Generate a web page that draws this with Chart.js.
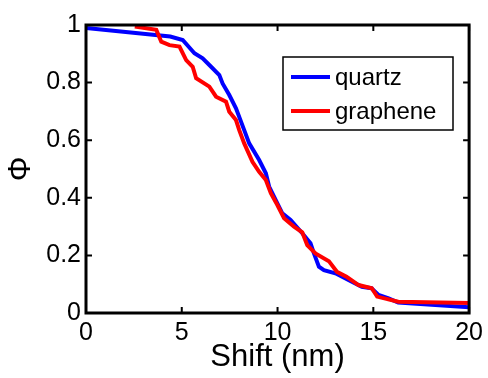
<!DOCTYPE html>
<html>
<head>
<meta charset="utf-8">
<script src="https://cdn.jsdelivr.net/npm/chart.js@4"></script>
<style>
  html, body { margin: 0; padding: 0; background: #fff; }
  #wrap { width: 488px; height: 378px; }
</style>
</head>
<body>
<div id="wrap"><canvas id="chart"></canvas></div>
<script>
// values
var quartzX = [0, 4.4, 5.05, 5.66, 6.09, 6.53, 6.96, 7.13, 7.48, 7.83, 8.26, 8.52, 9.04, 9.39, 9.56, 9.99, 10.25, 10.68, 11.29, 11.72, 11.9, 12.16, 12.42, 13.02, 13.7, 14.4, 14.9, 15.27, 15.8, 16.3, 20];
var quartzY = [0.99, 0.96, 0.948, 0.902, 0.884, 0.855, 0.826, 0.797, 0.757, 0.711, 0.635, 0.589, 0.531, 0.485, 0.439, 0.381, 0.346, 0.323, 0.277, 0.242, 0.207, 0.161, 0.149, 0.138, 0.115, 0.091, 0.086, 0.0625, 0.051, 0.036, 0.02];

var grapheneX = [2.55, 3.67, 3.93, 4.36, 4.88, 5.23, 5.57, 5.75, 6.44, 6.79, 7.31, 7.48, 7.83, 8.0, 8.26, 8.69, 9.04, 9.39, 9.65, 9.99, 10.34, 10.86, 11.29, 11.55, 11.98, 12.68, 13.1, 13.6, 14.23, 14.92, 15.2, 16.3, 20];
var grapheneY = [0.995, 0.983, 0.942, 0.93, 0.925, 0.878, 0.855, 0.815, 0.786, 0.751, 0.734, 0.699, 0.67, 0.635, 0.589, 0.525, 0.49, 0.462, 0.416, 0.375, 0.329, 0.3, 0.28, 0.236, 0.207, 0.18, 0.143, 0.126, 0.097, 0.086, 0.057, 0.039, 0.035];

var xTicks = [0, 5, 10, 15, 20];
var yTicks = [0, 0.2, 0.4, 0.6, 0.8, 1];

function toPoints(xs, ys) {
  var pts = [];
  for (var i = 0; i < xs.length; i++) pts.push({ x: xs[i], y: ys[i] });
  return pts;
}

var FONT = "'Liberation Sans', Arial, sans-serif";

// box, inward ticks and the legend drawn like the matlab figure
var framePlugin = {
  id: "frame",
  afterDatasetsDraw: function (chart) {
    var ctx = chart.ctx;
    var a = chart.chartArea;
    var xs = chart.scales.x, ys = chart.scales.y;
    var tl = 6;
    ctx.save();
    ctx.strokeStyle = "#000";
    ctx.lineWidth = 2;
    xTicks.forEach(function (v) {
      var px = xs.getPixelForValue(v);
      ctx.beginPath();
      ctx.moveTo(px, a.bottom); ctx.lineTo(px, a.bottom - tl);
      ctx.moveTo(px, a.top); ctx.lineTo(px, a.top + tl);
      ctx.stroke();
    });
    yTicks.forEach(function (v) {
      var py = ys.getPixelForValue(v);
      ctx.beginPath();
      ctx.moveTo(a.left, py); ctx.lineTo(a.left + tl, py);
      ctx.moveTo(a.right, py); ctx.lineTo(a.right - tl, py);
      ctx.stroke();
    });
    ctx.lineWidth = 3;
    ctx.strokeRect(a.left, a.top, a.right - a.left, a.bottom - a.top);

    // legend
    var lx = 283, ly = 57, lw = 170, lh = 73;
    ctx.fillStyle = "#fff";
    ctx.fillRect(lx, ly, lw, lh);
    ctx.lineWidth = 1.5;
    ctx.strokeRect(lx, ly, lw, lh);
    ctx.font = "24px " + FONT;
    ctx.textBaseline = "middle";
    chart.data.datasets.forEach(function (ds, i) {
      var yy = ly + 20 + i * 34;
      ctx.strokeStyle = ds.borderColor;
      ctx.lineWidth = 4;
      ctx.beginPath();
      ctx.moveTo(lx + 8, yy); ctx.lineTo(lx + 47, yy);
      ctx.stroke();
      ctx.fillStyle = "#000";
      ctx.fillText(ds.label, lx + 52, yy + 1);
    });
    ctx.restore();
  }
};

new Chart(document.getElementById("chart"), {
  type: "line",
  data: {
    datasets: [
      { label: "quartz", data: toPoints(quartzX, quartzY), borderColor: "#0000ff", borderWidth: 4, pointRadius: 0, tension: 0, order: 1 },
      { label: "graphene", data: toPoints(grapheneX, grapheneY), borderColor: "#ff0000", borderWidth: 4, pointRadius: 0, tension: 0, order: 0 }
    ]
  },
  options: {
    responsive: true,
    maintainAspectRatio: false,
    animation: false,
    layout: { padding: { top: 25, right: 17, left: 0, bottom: 0 } },
    plugins: { legend: { display: false }, tooltip: { enabled: false } },
    scales: {
      x: {
        type: "linear",
        min: 0, max: 20,
        afterBuildTicks: function (s) { s.ticks = xTicks.map(function (v) { return { value: v }; }); },
        afterFit: function (s) { s.height = 65; },
        grid: { display: false, drawTicks: false },
        border: { display: false },
        ticks: { color: "#000", padding: 5, maxRotation: 0, font: { family: FONT, size: 25 } },
        title: { display: true, text: "Shift (nm)", color: "#000", padding: { top: 0, bottom: 2 }, font: { family: FONT, size: 31 } }
      },
      y: {
        type: "linear",
        min: 0, max: 1,
        afterBuildTicks: function (s) { s.ticks = yTicks.map(function (v) { return { value: v }; }); },
        afterFit: function (s) { s.width = 86; },
        grid: { display: false, drawTicks: false },
        border: { display: false },
        ticks: {
          color: "#000", padding: 5, font: { family: FONT, size: 25 },
          callback: function (v) { return String(+v.toFixed(1)); }
        },
        title: { display: true, text: "Φ", color: "#000", padding: { top: 3, bottom: 0 }, font: { family: FONT, size: 31 } }
      }
    }
  },
  plugins: [framePlugin]
});
</script>
</body>
</html>
